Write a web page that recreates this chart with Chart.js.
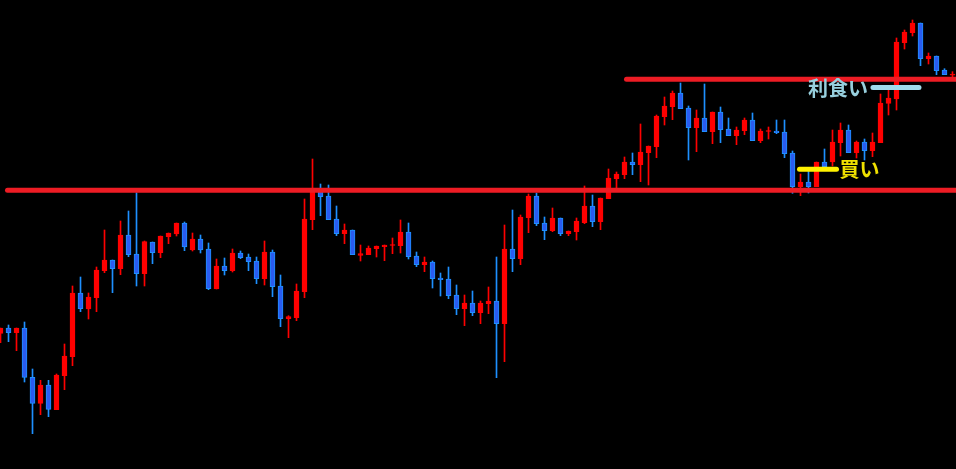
<!DOCTYPE html>
<html>
<head>
<meta charset="utf-8">
<script src="https://cdn.jsdelivr.net/npm/chart.js@4"></script>
<style>
  html, body { margin: 0; padding: 0; background: #000; overflow: hidden; }
  canvas { display: block; }
</style>
</head>
<body>
<canvas id="chart" width="956" height="469"></canvas>
<script>
// OHLC per candle (price units)
const opens = [
    135.7, 141, 136.3, 141, 91.7, 65.7, 84, 59.3, 93.3, 112.3,
    176, 160, 171.3, 198.3, 209, 200.3, 234, 215, 195.3, 227,
    216.3, 232.3, 235, 246, 219, 230, 220, 180, 203, 198.3,
    216, 212, 208, 190.3, 217, 183, 150.3, 151.3, 177.3, 249.3,
    278, 273, 250, 235.3, 239, 213.7, 214.3, 220.3, 222.3, 223.5,
    223.3, 237, 213, 204.3, 207, 191, 190, 174, 160.3, 166,
    156.3, 165.3, 168, 145.3, 220, 210.3, 251.3, 273, 246, 238.3,
    251, 235.3, 237.3, 246.3, 263, 247.3, 270.3, 290.3, 294.3, 307,
    304.3, 316.3, 322.3, 352.3, 362.3, 376, 361, 341.3, 351, 337.3,
    357, 340, 333.3, 338.3, 349, 328.3, 337.5, 338, 337, 316,
    282.3, 287, 282.3, 307, 307, 326.3, 339, 316.3, 327, 318.3,
    326.3, 365.7, 370, 426.3, 436.3, 446, 410.3, 413, 399, 393.8
];
const highs = [
    141, 144, 141, 147, 100, 88.7, 88.7, 95, 125, 183,
    192, 176, 202, 239, 209, 248, 258, 276.3, 228, 227,
    233, 236, 246, 247, 236, 234, 226, 210, 211, 220,
    218, 215, 212, 228, 219, 194, 153.3, 185, 270, 310,
    285, 284, 263, 245, 239, 224, 223, 223, 224, 231,
    249, 246, 217, 212, 208, 196, 202, 184, 174, 178,
    168, 182, 212, 244, 259, 254, 275, 276, 252, 261,
    251, 238, 251, 283, 274, 271, 300, 297, 312, 316,
    345, 323, 354, 372, 378, 386, 363, 359, 385, 357,
    362, 351, 342, 351, 356, 340, 342, 349, 349, 318,
    295, 301, 307, 320, 339, 346, 344, 328, 330, 336,
    375, 380, 431, 439, 449, 446, 416, 413, 400.3, 397.3
];
const lows = [
    126.3, 127.3, 118.3, 87, 35.3, 54.3, 52.3, 59.3, 79.3, 103.3,
    157.3, 150, 157.3, 196.3, 176.3, 194.3, 212.3, 183, 183, 205.3,
    211.3, 225.3, 233, 218.3, 218, 216, 179.3, 180, 194, 197,
    210.3, 198.3, 185.3, 184, 172.3, 142.3, 131.3, 148.3, 171.3, 239.3,
    253.3, 249.3, 233.3, 225.3, 214.3, 208, 214.3, 212, 208.3, 215.3,
    216, 210, 202.3, 197.3, 181, 173, 170.3, 154.3, 143.3, 153.3,
    145.3, 155.3, 91.3, 107.3, 197.3, 204.3, 236.3, 243.3, 229.3, 237.3,
    233.3, 233.3, 229, 245.3, 242.3, 239.3, 270.3, 280.3, 290.3, 294.3,
    287.3, 284, 311.3, 344, 349.3, 360.3, 309, 317.3, 337.3, 325.3,
    326.3, 333.3, 324.3, 334.3, 328.3, 326.3, 330, 335.3, 311.3, 275.7,
    273.3, 276, 282.3, 302.3, 303, 313, 316.3, 311, 309, 312.3,
    326.3, 354, 359, 420, 433, 403.3, 405, 394.3, 394.3, 392.3
];
const closes = [
    141, 136.3, 141, 91.7, 65.7, 84, 59.7, 94, 113, 176,
    160.3, 172, 199, 209, 200.3, 234, 214.3, 195.3, 227.3, 216.3,
    233, 236, 246, 222, 230, 219, 180.3, 203, 198.3, 216,
    211.3, 207.3, 190.3, 217, 182.3, 150.3, 152.3, 178, 250, 279,
    272.3, 249.3, 235.3, 239, 214.3, 215.3, 221, 223, 224, 224.5,
    237, 212.3, 204.3, 207, 190.3, 189.3, 173.3, 160.3, 166, 156.3,
    166, 168, 145.3, 220, 210.3, 252, 273, 245.3, 238.3, 251,
    235.3, 238, 248, 263, 247.3, 271, 291, 295, 307, 304.3,
    317, 323, 353, 363, 376, 360.3, 341.3, 351, 337.3, 357,
    339.3, 333.3, 339, 349, 328.3, 338, 338.5, 336.3, 315.3, 282.3,
    287, 282.3, 307, 302.3, 327, 339, 316.3, 327, 318.3, 327,
    366, 371, 427, 437, 446, 410.3, 413, 398.3, 394.3, 394.8
];

// horizontal levels: price, first candle, last candle
const supportLevel = 278.7, supportFrom = 0.875, supportTo = 120;
const resistLevel = 389.7, resistFrom = 78.25, resistTo = 120;
const takeProfitLevel = 381.5, takeProfitFrom = 109.06, takeProfitTo = 114.81;
const entryLevel = 299.7, entryFrom = 99.875, entryTo = 104.5;

const UP = '#ff0000';
const DOWN_WICK = '#1e90ff';
const DOWN_BODY = '#2a5cf0';
const LEVEL_RED = '#ed1c24';
const TP_LINE = '#a0dcec';
const TP_TEXT = '#97cfdd';
const ENTRY_LINE = '#fff200';
const ENTRY_TEXT = '#f0e000';

const idx = opens.map((_, i) => i);
const isUp = idx.map(i => closes[i] >= opens[i]);

const hLine = (level, from, to) => [{ x: from, y: level }, { x: to, y: level }];

const tradeLabels = {
    id: 'tradeLabels',
    afterDatasetsDraw(chart) {
        const { ctx, scales: { x, y } } = chart;
        ctx.save();
        ctx.font = 'bold 20px "Noto Sans CJK JP"';
        ctx.textBaseline = 'middle';

        ctx.fillStyle = TP_TEXT;
        ctx.textAlign = 'right';
        ctx.fillText('利食い', x.getPixelForValue(takeProfitFrom) - 5, y.getPixelForValue(takeProfitLevel) + 1);

        ctx.fillStyle = ENTRY_TEXT;
        ctx.textAlign = 'left';
        ctx.fillText('買い', x.getPixelForValue(entryTo) + 3, y.getPixelForValue(entryLevel));
        ctx.restore();
    }
};

const ctx = document.getElementById('chart').getContext('2d');
const chart = new Chart(ctx, {
    type: 'bar',
    data: {
        datasets: [
            {
                type: 'line',
                data: hLine(takeProfitLevel, takeProfitFrom, takeProfitTo),
                borderColor: TP_LINE,
                borderWidth: 5,
                borderCapStyle: 'round',
                pointRadius: 0,
                order: 0
            },
            {
                type: 'line',
                data: hLine(entryLevel, entryFrom, entryTo),
                borderColor: ENTRY_LINE,
                borderWidth: 5,
                borderCapStyle: 'round',
                pointRadius: 0,
                order: 0
            },
            {
                type: 'line',
                data: hLine(supportLevel, supportFrom, supportTo),
                borderColor: LEVEL_RED,
                borderWidth: 5,
                borderCapStyle: 'round',
                pointRadius: 0,
                order: 1
            },
            {
                type: 'line',
                data: hLine(resistLevel, resistFrom, resistTo),
                borderColor: LEVEL_RED,
                borderWidth: 5,
                borderCapStyle: 'round',
                pointRadius: 0,
                order: 1
            },
            {
                label: 'body',
                data: idx.map(i => ({ x: i, y: [opens[i], closes[i]] })),
                backgroundColor: idx.map(i => isUp[i] ? UP : DOWN_BODY),
                borderColor: idx.map(i => isUp[i] ? UP : DOWN_WICK),
                borderWidth: 1,
                borderSkipped: false,
                barThickness: 5,
                grouped: false,
                order: 3
            },
            {
                label: 'wick',
                data: idx.map(i => ({ x: i, y: [lows[i], highs[i]] })),
                backgroundColor: idx.map(i => isUp[i] ? UP : DOWN_WICK),
                borderWidth: 0,
                barThickness: 1,
                grouped: false,
                order: 4
            }
        ]
    },
    options: {
        responsive: false,
        animation: false,
        devicePixelRatio: 1,
        layout: { padding: 0, autoPadding: false },
        plugins: {
            legend: { display: false },
            tooltip: { enabled: false }
        },
        scales: {
            x: { type: 'linear', min: -0.0625, max: 119.4375, offset: false, display: false },
            y: { min: 0, max: 469, display: false }
        }
    },
    plugins: [tradeLabels]
});
</script>
</body>
</html>
